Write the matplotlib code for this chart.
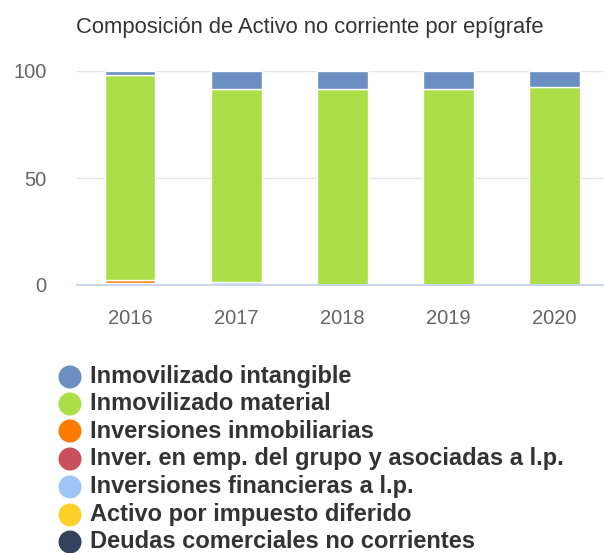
import matplotlib
matplotlib.use("Agg")
import matplotlib.pyplot as plt
from matplotlib.patches import Ellipse
import numpy as np

plt.rcParams['font.family'] = ['Liberation Sans', 'DejaVu Sans']

years = ["2016", "2017", "2018", "2019", "2020"]
series_names = [
    "Inmovilizado intangible",
    "Inmovilizado material",
    "Inversiones inmobiliarias",
    "Inver. en emp. del grupo y asociadas a l.p.",
    "Inversiones financieras a l.p.",
    "Activo por impuesto diferido",
    "Deudas comerciales no corrientes",
]
colors = ["#6b8fc0", "#abde47", "#fd7b00", "#c9505f", "#9ec5f5", "#fdd02a", "#36435c"]

intangible = [1.9, 8.4, 8.4, 8.4, 7.6]
material = [95.8, 90.4, 91.5, 91.5, 92.3]
inmobiliarias = [1.5, 0.0, 0.0, 0.0, 0.0]
grupo = [0.0, 0.0, 0.0, 0.0, 0.0]
financieras = [0.8, 1.2, 0.1, 0.1, 0.1]
impuesto = [0.0, 0.0, 0.0, 0.0, 0.0]
deudas = [0.0, 0.0, 0.0, 0.0, 0.0]

values = [intangible, material, inmobiliarias, grupo, financieras, impuesto, deudas]

W, H = 604, 553
fig = plt.figure(figsize=(W / 100, H / 100), dpi=100)
ax = fig.add_axes([77 / W, 1 - 285 / H, (W - 77) / W, (285 - 71) / H])

x = np.arange(len(years))
bottom = np.zeros(len(years))
# stack: last series at bottom, first on top
for vals, col in zip(values[::-1], colors[::-1]):
    v = np.array(vals, dtype=float)
    ax.bar(x, v, bottom=bottom, width=0.48, color=col, edgecolor="white", linewidth=1, zorder=3)
    bottom += v

ax.set_xlim(-0.5, 4.47)
ax.set_ylim(0, 100)
ax.set_yticks([0, 50, 100])
ax.set_xticks(x)
ax.set_xticklabels(years)
ax.grid(axis="y", color="#e6e6e6", linewidth=1, zorder=0)
ax.set_axisbelow(True)
for s in ["top", "right", "left"]:
    ax.spines[s].set_visible(False)
ax.spines["bottom"].set_color("#ccd6eb")
ax.spines["bottom"].set_linewidth(1.5)
ax.spines["bottom"].set_zorder(4)
ax.tick_params(axis="y", length=0, pad=22, labelsize=14.5, labelcolor="#666666")
ax.tick_params(axis="x", length=0, pad=17, labelsize=14.5, labelcolor="#666666")

fig.text(310 / W, 1 - 27 / H, "Composición de Activo no corriente por epígrafe",
         ha="center", va="center", fontsize=15.8, color="#333333")

row_y = [377, 404, 431, 459, 487, 515, 542]
for name, col, yy in zip(series_names, colors, row_y):
    fy = 1 - yy / H
    e = Ellipse((70 / W, fy), 23 / W, 23 / H, transform=fig.transFigure,
                facecolor=col, edgecolor="none")
    fig.patches.append(e)
    fig.text(90 / W, fy, name, ha="left", va="center", fontsize=17,
             fontweight="bold", color="#333333")

fig.savefig("out.png", dpi=100)
